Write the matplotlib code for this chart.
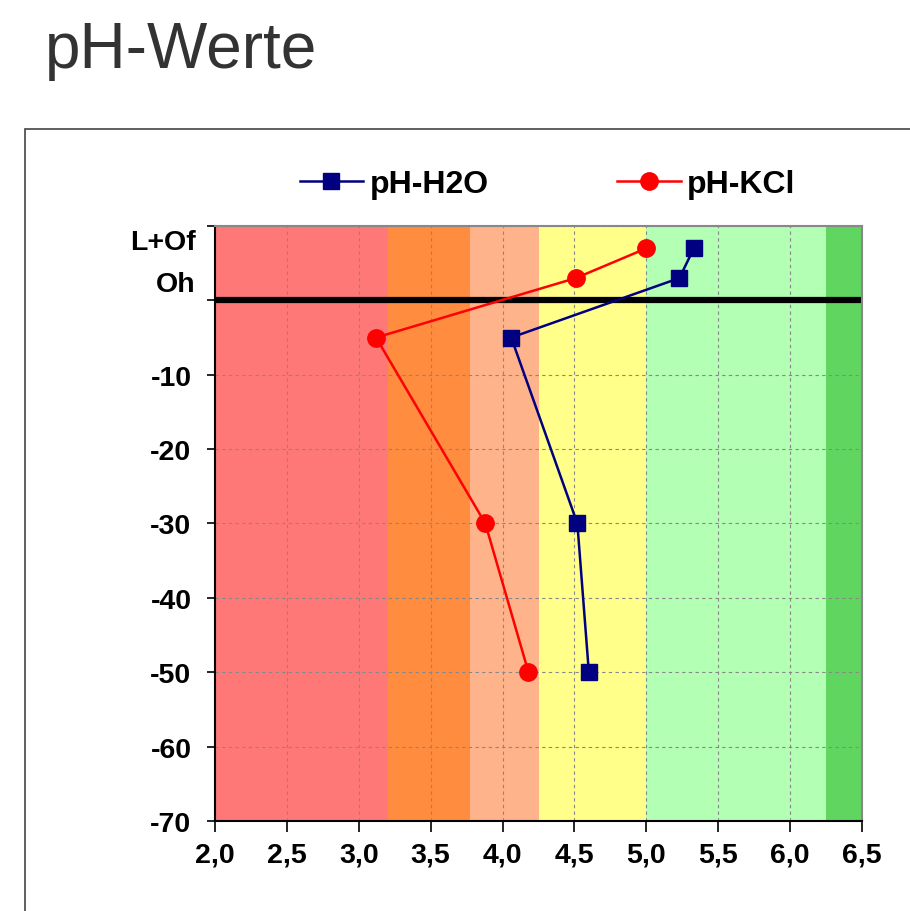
import matplotlib.pyplot as plt
from matplotlib.patches import Rectangle

plt.rcParams['font.family'] = ['Liberation Sans', 'DejaVu Sans']

# depth (cm) and pH values
depth = [7, 3, -5, -30, -50]
ph_h2o = [5.33, 5.23, 4.06, 4.52, 4.60]
ph_kcl = [5.00, 4.51, 3.12, 3.88, 4.18]

# pH colour bands (lower, upper, colour)
band_edges = [2.0, 3.2, 3.77, 4.25, 5.0, 6.25, 6.5]
band_colors = ['#FF7878', '#FF8C3F', '#FFB38A', '#FFFF8A', '#B3FFB3', '#60D660']

horizon_labels = ['L+Of', 'Oh']
horizon_pos = [7.9, 2.2]

x_ticks = [2.0, 2.5, 3.0, 3.5, 4.0, 4.5, 5.0, 5.5, 6.0, 6.5]
y_ticks = [10, 0, -10, -20, -30, -40, -50, -60, -70]

fig = plt.figure(figsize=(9.1, 9.12), dpi=100)
fig.text(0.049, 0.925, 'pH-Werte', fontsize=46, color='#333333', ha='left', va='baseline')

# chart frame
fig.patches.append(Rectangle((0.0275, -0.2), 1.2, 1.0575, transform=fig.transFigure,
                             fill=False, edgecolor='#444444', lw=1.2))

ax = fig.add_axes([0.2363, 0.0987, 0.711, 0.6524])

for i in range(len(band_colors)):
    ax.axvspan(band_edges[i], band_edges[i + 1], color=band_colors[i], lw=0, zorder=0)

ax.grid(True, color='#888888', linestyle=(0, (3, 3)), lw=0.8, zorder=1)
ax.axhline(0, color='black', lw=4.5, zorder=2)

ax.plot(ph_h2o, depth, color='#000080', lw=1.8, marker='s', markersize=11.5, label='pH-H2O', zorder=4)
ax.plot(ph_kcl, depth, color='#FF0000', lw=1.8, marker='o', markersize=12.5, label='pH-KCl', zorder=3)

ax.set_xlim(2.0, 6.5)
ax.set_ylim(-70, 10)
ax.set_xticks(x_ticks)
ax.set_xticklabels([('%.1f' % v).replace('.', ',') for v in x_ticks], fontsize=20.5, fontweight='bold')
ax.set_yticks(y_ticks)
ax.set_yticklabels(['' if v >= 0 else str(v) for v in y_ticks], fontsize=20.5, fontweight='bold')
ax.tick_params(axis='y', length=6, pad=11, width=1.2)
ax.tick_params(axis='x', length=8, pad=7, width=1.2)

for lbl, yv in zip(horizon_labels, horizon_pos):
    ax.text(-0.03, yv, lbl, transform=ax.get_yaxis_transform(), ha='right', va='center',
            fontsize=20.5, fontweight='bold')

for s in ['left', 'bottom']:
    ax.spines[s].set_color('black')
    ax.spines[s].set_linewidth(1.5)
for s in ['right', 'top']:
    ax.spines[s].set_color('#888888')
    ax.spines[s].set_linewidth(1.5)

fig.legend(loc='center', bbox_to_anchor=(0.6016, 0.797), ncol=2, frameon=False,
           prop={'size': 23, 'weight': 'bold'}, handlelength=2.0, columnspacing=4.0,
           handletextpad=0.2)

plt.savefig('out.png', dpi=100)
